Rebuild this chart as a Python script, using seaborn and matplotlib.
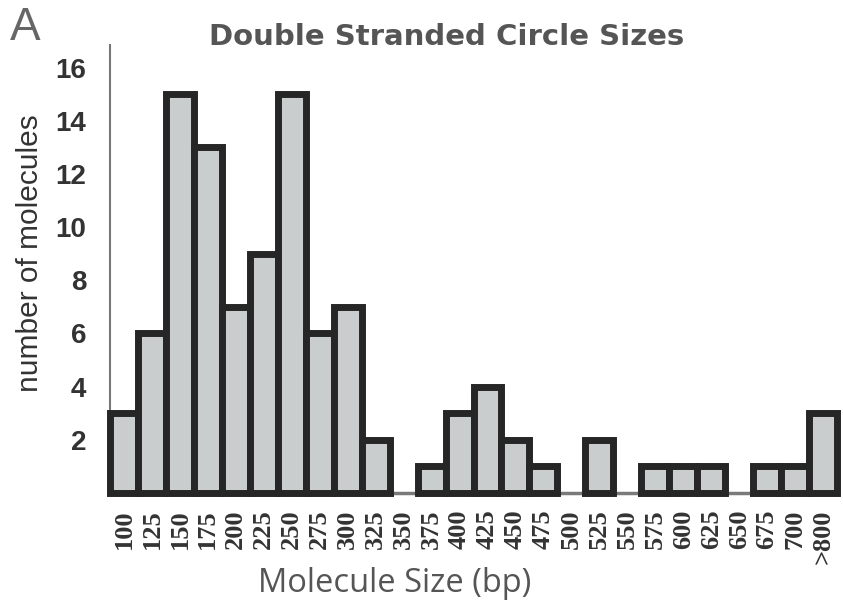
import matplotlib
matplotlib.use("Agg")
import matplotlib.pyplot as plt
import seaborn as sns
import pandas as pd

# Size bins (bp) and number of molecules in each
sizes = ["100", "125", "150", "175", "200", "225", "250", "275", "300", "325",
         "350", "375", "400", "425", "450", "475", "500", "525", "550", "575",
         "600", "625", "650", "675", "700", ">800"]
counts = [3, 6, 15, 13, 7, 9, 15, 6, 7, 2,
          0, 1, 3, 4, 2, 1, 0, 2, 0, 1,
          1, 1, 0, 1, 1, 3]
y_ticks = [2, 4, 6, 8, 10, 12, 14, 16]

df = pd.DataFrame({"size": sizes, "count": counts})

sns.set_theme(style="white")
W, H = 843, 606
fig = plt.figure(figsize=(W / 100, H / 100), dpi=100)
ax = fig.add_axes([110 / W, (H - 493) / H, (837 - 110) / W, (493 - 45) / H])

sns.barplot(data=df, x="size", y="count", order=sizes, width=1.0,
            color="#c9cdcd", saturation=1, edgecolor="#262626",
            linewidth=5, ax=ax, zorder=3)

for patch in ax.patches:
    patch.set_clip_on(False)
    if patch.get_height() == 0:
        patch.set_visible(False)

ax.set_xlim(-0.5, len(sizes) - 0.5)
ax.set_ylim(0, 16.85)

# axis lines
for side in ("top", "right"):
    ax.spines[side].set_visible(False)
ax.spines["left"].set_color("#777777")
ax.spines["left"].set_linewidth(1.5)
ax.spines["bottom"].set_color("#7a7a7a")
ax.spines["bottom"].set_linewidth(2.5)
ax.spines["bottom"].set_zorder(1)

ax.set_yticks(y_ticks)
ax.set_yticklabels([str(t) for t in y_ticks], fontfamily="Liberation Sans",
                   fontweight="bold", fontsize=20, color="#333333")
ax.set_xticks(range(len(sizes)))
ax.set_xticklabels(sizes, rotation=90, fontfamily="Liberation Serif",
                   fontweight="bold", fontsize=19, color="#333333")
ax.tick_params(axis="y", length=0, pad=17)
ax.tick_params(axis="x", length=0, pad=12)

ax.set_xlabel("")
ax.set_ylabel("number of molecules", fontfamily="Liberation Sans",
              fontsize=21.5, color="#333333")
ax.yaxis.set_label_coords(-66 / 727, 0.536)

fig.text(447 / W, 1 - 37 / H, "Double Stranded Circle Sizes",
         ha="center", va="center", fontfamily="DejaVu Sans",
         fontweight="bold", fontsize=21, color="#555555")
fig.text(10 / W, 1 - 28 / H, "A", ha="left", va="center",
         fontfamily="Liberation Sans", fontsize=33, color="#666666")
fig.text(395 / W, 1 - 583 / H, "Molecule Size (bp)", ha="center", va="center",
         fontfamily="Open Sans", fontsize=23.5, color="#555555")

fig.savefig("out.png", dpi=100)
